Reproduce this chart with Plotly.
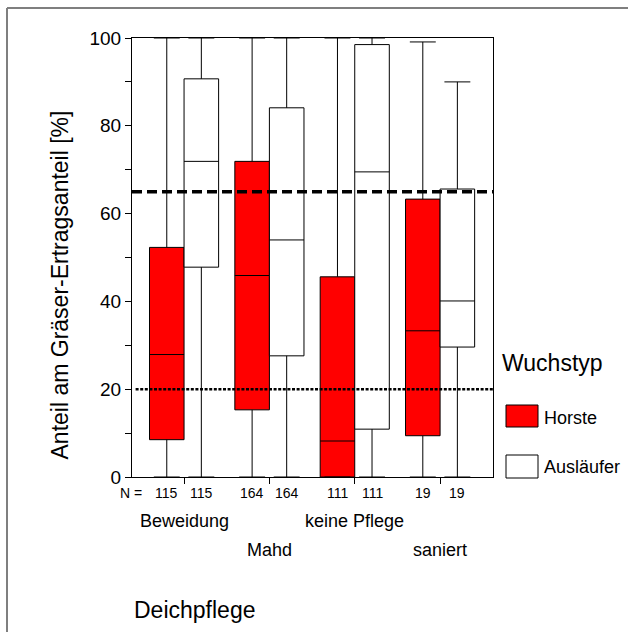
import plotly.graph_objects as go

# ---- data ----
categories = ["Beweidung", "Mahd", "keine Pflege", "saniert"]
series_names = ["Horste", "Ausläufer"]
n_counts = [115, 164, 111, 19]

horste_q1 = [8.5, 15.3, 0.0, 9.4]
horste_median = [27.9, 45.9, 8.2, 33.3]
horste_q3 = [52.3, 71.9, 45.6, 63.3]
horste_low = [0.0, 0.0, 0.0, 0.0]
horste_high = [100.0, 100.0, 100.0, 99.1]

auslaeufer_q1 = [47.8, 27.6, 10.9, 29.6]
auslaeufer_median = [71.9, 54.0, 69.5, 40.1]
auslaeufer_q3 = [90.7, 84.1, 98.5, 65.6]
auslaeufer_low = [0.0, 0.0, 0.0, 0.0]
auslaeufer_high = [100.0, 100.0, 100.0, 90.0]

ref_dashed = 65
ref_dotted = 20
y_ticks = [0, 20, 40, 60, 80, 100]

y_title = "Anteil am Gräser-Ertragsanteil [%]"
x_title = "Deichpflege"
legend_title = "Wuchstyp"

FONT = "Arial, 'Liberation Sans', sans-serif"

fig = go.Figure()
fig.add_trace(go.Box(
    name=series_names[0], x=categories,
    q1=horste_q1, median=horste_median, q3=horste_q3,
    lowerfence=horste_low, upperfence=horste_high,
    fillcolor="#ff0000", line=dict(color="#000000", width=1),
    whiskerwidth=0.75, boxpoints=False, showlegend=False,
))
fig.add_trace(go.Box(
    name=series_names[1], x=categories,
    q1=auslaeufer_q1, median=auslaeufer_median, q3=auslaeufer_q3,
    lowerfence=auslaeufer_low, upperfence=auslaeufer_high,
    fillcolor="#ffffff", line=dict(color="#000000", width=1),
    whiskerwidth=0.75, boxpoints=False, showlegend=False,
))

L, R, T, B = 132, 135, 38, 155
W, H = 628, 632
pw, ph = W - L - R, H - T - B


def px_x(px):
    return (px - L) / pw


def px_y(py):
    return (H - B - py) / ph


shapes = [
    dict(type="line", xref="paper", yref="y", x0=0, x1=1, y0=ref_dashed, y1=ref_dashed,
         line=dict(color="black", width=3.5, dash="10px,5px")),
    dict(type="line", xref="paper", yref="y", x0=0.01, x1=1, y0=ref_dotted, y1=ref_dotted,
         line=dict(color="black", width=2.5, dash="3px,1.6px")),
    # outer frame
    dict(type="line", xref="paper", yref="paper", x0=px_x(7), x1=px_x(7), y0=px_y(632), y1=px_y(8),
         line=dict(color="#7f7f7f", width=2)),
    dict(type="line", xref="paper", yref="paper", x0=px_x(7), x1=px_x(628), y0=px_y(8), y1=px_y(8),
         line=dict(color="#7f7f7f", width=2)),
    # legend swatches
    dict(type="rect", xref="paper", yref="paper", x0=px_x(506), x1=px_x(538), y0=px_y(427), y1=px_y(405),
         fillcolor="#ff0000", line=dict(color="black", width=1)),
    dict(type="rect", xref="paper", yref="paper", x0=px_x(506), x1=px_x(538), y0=px_y(478), y1=px_y(455),
         fillcolor="#ffffff", line=dict(color="black", width=1)),
]

annotations = []
# N labels
annotations.append(dict(text="N =", xref="paper", yref="paper", x=px_x(131), y=0, yshift=-16,
                        xanchor="center", yanchor="middle", showarrow=False,
                        font=dict(family=FONT, size=14, color="black")))
half = 0.2025
for i, n in enumerate(n_counts):
    for off in (-half, half):
        annotations.append(dict(text=str(n), xref="x", yref="paper", x=i + off, y=0, yshift=-16,
                                xanchor="center", yanchor="middle", showarrow=False,
                                font=dict(family=FONT, size=14, color="black")))
# category labels (staggered)
for i, c in enumerate(categories):
    annotations.append(dict(text=c, xref="x", yref="paper", x=i, y=0,
                            yshift=-44 if i % 2 == 0 else -73,
                            xanchor="center", yanchor="middle", showarrow=False,
                            font=dict(family=FONT, size=18, color="black")))
# axis titles
annotations.append(dict(text=x_title, xref="paper", yref="paper", x=0, y=0, yshift=-133,
                        xanchor="left", yanchor="middle", showarrow=False,
                        font=dict(family=FONT, size=23, color="black")))
annotations.append(dict(text=y_title, xref="paper", yref="paper", x=px_x(59.5), y=px_y(285),
                        xanchor="center", yanchor="middle", textangle=-90, showarrow=False,
                        font=dict(family=FONT, size=23, color="black")))
# legend texts
annotations.append(dict(text=legend_title, xref="paper", yref="paper", x=px_x(500), y=px_y(363),
                        xanchor="left", yanchor="middle", showarrow=False,
                        font=dict(family=FONT, size=23, color="black")))
annotations.append(dict(text=series_names[0], xref="paper", yref="paper", x=px_x(542), y=px_y(418),
                        xanchor="left", yanchor="middle", showarrow=False,
                        font=dict(family=FONT, size=18, color="black")))
annotations.append(dict(text=series_names[1], xref="paper", yref="paper", x=px_x(542), y=px_y(467),
                        xanchor="left", yanchor="middle", showarrow=False,
                        font=dict(family=FONT, size=18, color="black")))

fig.update_layout(
    width=W, height=H,
    margin=dict(l=L, r=R, t=T, b=B, pad=0),
    paper_bgcolor="white", plot_bgcolor="white",
    boxmode="group", boxgap=0.19, boxgroupgap=0,
    font=dict(family=FONT, color="black"),
    shapes=shapes, annotations=annotations,
    showlegend=False, hovermode=False,
)
fig.update_xaxes(
    type="category", range=[-0.61, 3.62],
    showgrid=False, zeroline=False,
    showline=True, linecolor="black", linewidth=1, mirror=True,
    ticks="outside", ticklen=6, tickcolor="black", showticklabels=False,
)
fig.update_yaxes(
    range=[0, 100], tickvals=y_ticks,
    showgrid=False, zeroline=False,
    showline=True, linecolor="black", linewidth=1, mirror=True,
    ticks="outside", ticklen=6, tickcolor="black",
    tickfont=dict(family=FONT, size=19, color="black"),
    minor=dict(dtick=10, tick0=0, ticks="outside", ticklen=6, tickcolor="black", showgrid=False),
)

fig.write_html(
    "out.html",
    config={"displayModeBar": False, "staticPlot": True},
    post_script="document.body.style.margin='0px';document.body.style.padding='0px';document.body.style.overflow='hidden';",
)
